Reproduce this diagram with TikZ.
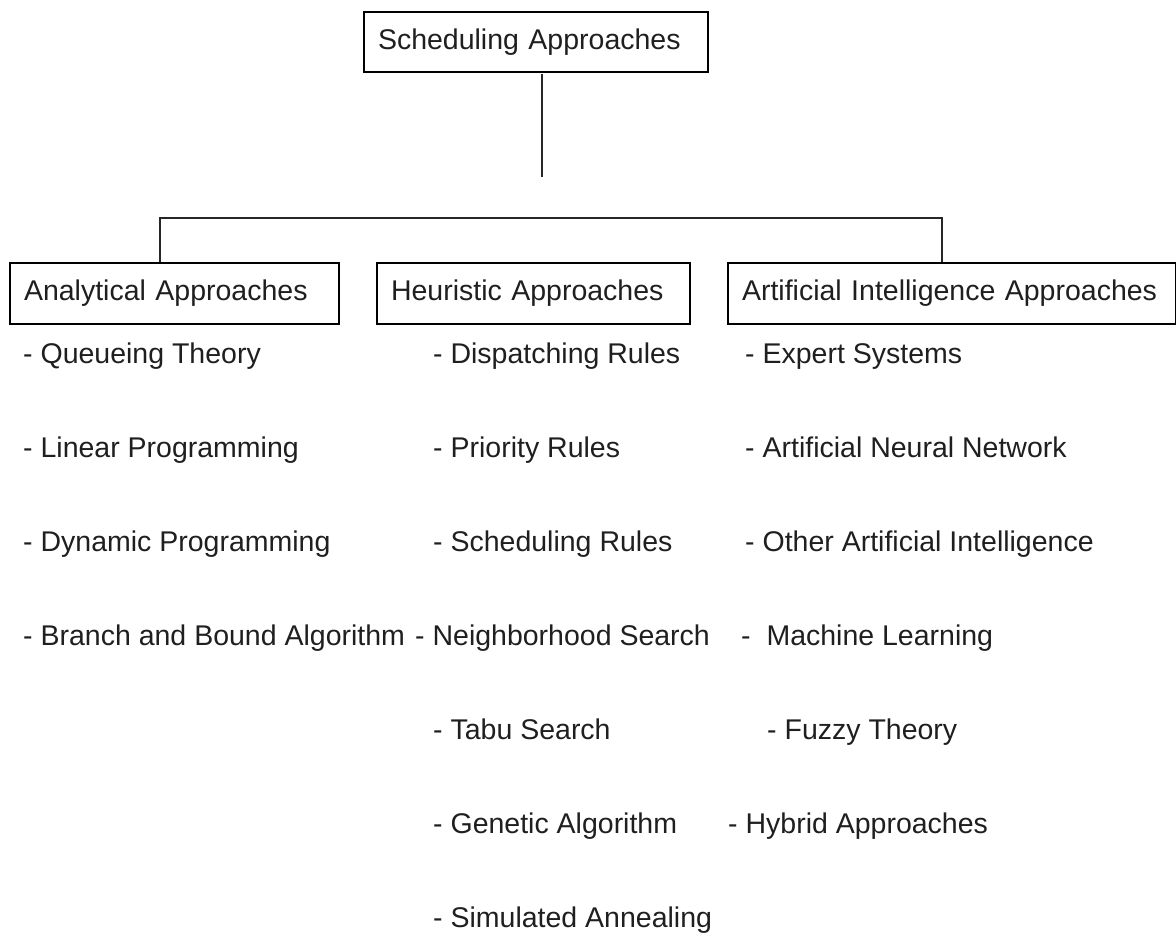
\documentclass[tikz,border=0pt]{standalone}
\usepackage{fontspec}
\setmainfont{Liberation Sans}
\begin{document}
\begin{tikzpicture}[x=1pt,y=-1pt,
  every node/.style={font=\fontsize{28.5}{34}\selectfont, text=black!88},
  headbox/.style={draw=black, line width=2pt, anchor=north west, inner xsep=14pt,
    inner ysep=0pt, minimum height=61pt, align=left},
  item/.style={anchor=base west, inner sep=0pt},
  link/.style={draw=black!85, line width=1.6pt}]
\useasboundingbox (0,0) rectangle (1176,938);

% root and the three families
\node[headbox, minimum height=60pt, text width=316pt] (root) at (363,11) {Scheduling Approaches};
\node[headbox, text width=301pt] (anal) at (9,262) {Analytical Approaches};
\node[headbox, text width=285pt] (heur) at (376,262) {Heuristic Approaches};
\node[headbox, text width=420pt] (ai) at (727,262) {Artificial Intelligence Approaches};

% connectors
\coordinate (stemtop) at (542,74);
\coordinate (stembot) at (542,177);
\coordinate (barL) at (160,218);
\coordinate (barR) at (942,218);
\draw[link] (stemtop) -- (stembot);
\draw[link] (anal.north -| barL) -- (barL) -- (barR) -- (ai.north -| barR);

% analytical methods
\node[item] (a1) at (23,363) {- Queueing Theory};
\node[item] (a2) at (23,457) {- Linear Programming};
\node[item] (a3) at (23,551) {- Dynamic Programming};
\node[item] (a4) at (23,645) {- Branch and Bound Algorithm};

% heuristic methods
\node[item] (h1) at (433,363) {- Dispatching Rules};
\node[item] (h2) at (433,457) {- Priority Rules};
\node[item] (h3) at (433,551) {- Scheduling Rules};
\node[item] (h4) at (415,645) {- Neighborhood Search};
\node[item] (h5) at (433,739) {- Tabu Search};
\node[item] (h6) at (433,833) {- Genetic Algorithm};
\node[item] (h7) at (433,927) {- Simulated Annealing};

% artificial intelligence methods
\node[item] (i1) at (745,363) {- Expert Systems};
\node[item] (i2) at (745,457) {- Artificial Neural Network};
\node[item] (i3) at (745,551) {- Other Artificial Intelligence};
\node[item] (i4) at (741,645) {-\ \ Machine Learning};
\node[item] (i5) at (767,739) {- Fuzzy Theory};
\node[item] (i6) at (728,833) {- Hybrid Approaches};
\end{tikzpicture}
\end{document}
